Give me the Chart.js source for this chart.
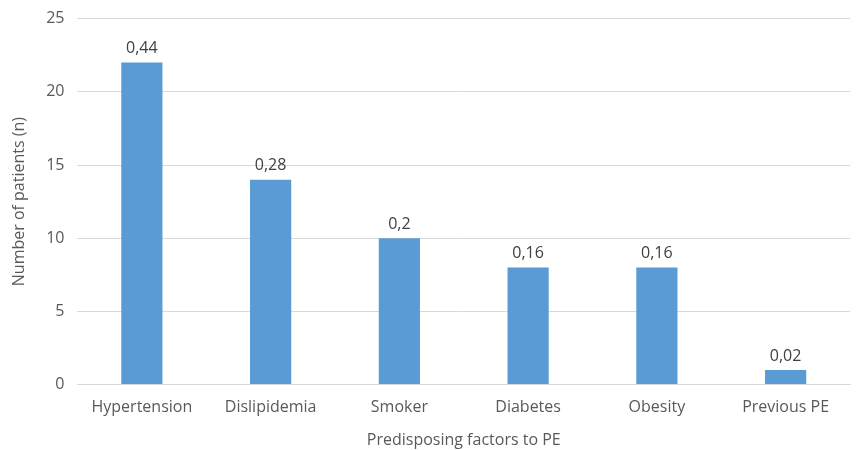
<!DOCTYPE html>
<html>
<head>
<meta charset="utf-8">
<script src="https://cdn.jsdelivr.net/npm/chart.js@4"></script>
<style>
  body { margin: 0; background: #fff; overflow: hidden; }
  #wrap { width: 858px; height: 454px; margin-top: -4px; }
</style>
</head>
<body>
<div id="wrap"><canvas id="chart"></canvas></div>
<script>
const categories = ['Hypertension', 'Dislipidemia', 'Smoker', 'Diabetes', 'Obesity', 'Previous PE'];
const patients = [22, 14, 10, 8, 8, 1];
const proportions = ['0,44', '0,28', '0,2', '0,16', '0,16', '0,02'];

// draw the proportion above each bar
const barLabels = {
    id: 'barLabels',
    afterDatasetsDraw(chart) {
        const ctx = chart.ctx;
        const meta = chart.getDatasetMeta(0);
        ctx.save();
        ctx.font = '16px "Open Sans", sans-serif';
        ctx.fillStyle = '#404040';
        ctx.textAlign = 'center';
        ctx.textBaseline = 'bottom';
        meta.data.forEach((bar, i) => {
            ctx.fillText(proportions[i], bar.x, bar.y - 6);
        });
        ctx.restore();
    }
};

Chart.defaults.font.family = '"Open Sans", sans-serif';
Chart.defaults.font.size = 16;
Chart.defaults.color = '#595959';

new Chart(document.getElementById('chart').getContext('2d'), {
    type: 'bar',
    data: {
        labels: categories,
        datasets: [{
            data: patients,
            backgroundColor: '#5B9BD5',
            categoryPercentage: 0.32,
            barPercentage: 1
        }]
    },
    options: {
        responsive: true,
        maintainAspectRatio: false,
        animation: false,
        layout: { padding: { top: 0, right: 8, left: 6, bottom: 0 } },
        plugins: {
            legend: { display: false },
            tooltip: { enabled: false }
        },
        scales: {
            x: {
                grid: { display: false, drawTicks: false },
                border: { color: '#d9d9d9' },
                ticks: { padding: 13 },
                title: { display: true, text: 'Predisposing factors to PE', padding: { top: 1, bottom: 0 } }
            },
            y: {
                min: 0,
                max: 25,
                ticks: { stepSize: 5, padding: 13 },
                grid: { color: '#d9d9d9', drawTicks: false },
                border: { display: false },
                title: { display: true, text: 'Number of patients (n)', padding: { bottom: 4 } }
            }
        }
    },
    plugins: [barLabels]
});
</script>
</body>
</html>
